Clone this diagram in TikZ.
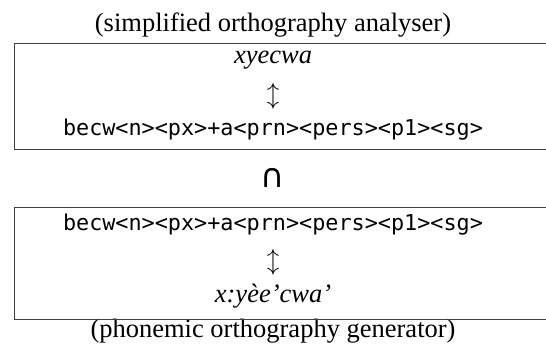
\documentclass[tikz,border=0pt]{standalone}
\usepackage{fontspec}
\setmainfont{Liberation Serif}
\setmonofont{DejaVu Sans Mono}
\newfontfamily\symfont{DejaVu Sans}
\begin{document}
\begin{tikzpicture}[x=1pt,y=-1pt,
  lab/.style={font=\fontsize{26.5}{30}\selectfont, inner sep=0pt, anchor=base},
  code/.style={font=\ttfamily\fontsize{21.8}{26}\selectfont, inner sep=0pt, anchor=base},
  arr/.style={font=\fontsize{25}{30}\selectfont, inner sep=0pt},
  frame/.style={draw=black!75, line width=0.9pt}]
\useasboundingbox (0,0) rectangle (546,348);
\node[lab] (t1) at (273,31) {(simplified orthography analyser)};
\node[lab] (w1) at (273,63) {\itshape xyecwa};
\node[arr] (a1) at (273,96) {$\updownarrow$};
\node[code] (c1) at (273,135) {becw<n><px>+a<prn><pers><p1><sg>};
\node[font=\symfont\fontsize{33}{38}\selectfont, inner sep=0pt] (cap) at (273,178) {∩};
\node[code] (c2) at (273,230) {becw<n><px>+a<prn><pers><p1><sg>};
\node[arr] (a2) at (273,262) {$\updownarrow$};
\node[lab] (w2) at (273,302) {\itshape x:yèe’cwa’};
\node[lab] (t2) at (273,337) {(phonemic orthography generator)};
\draw[frame] (546,43) -- (14,43) -- (14,149) -- (546,149);
\draw[frame] (546,207) -- (14,207) -- (14,319) -- (546,319);
\end{tikzpicture}
\end{document}
